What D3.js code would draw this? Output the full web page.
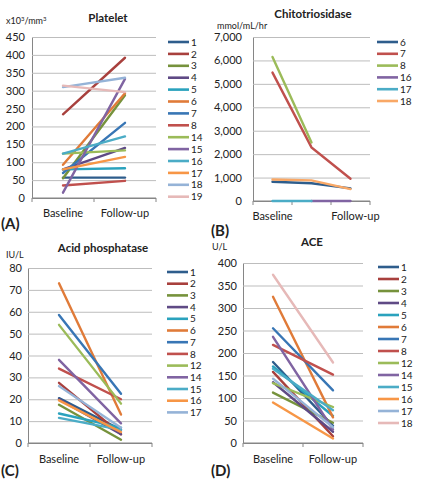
<!DOCTYPE html>
<html><head><meta charset="utf-8">
<script src="https://cdn.jsdelivr.net/npm/d3@7"></script>
<style>body{margin:0;background:#fff}svg{display:block}text{font-family:Lato,"Liberation Sans",sans-serif;fill:#222}</style>
</head><body>
<svg id="c" width="421" height="480"></svg>
<script>
// ---- Data ----
const platCats = ["Baseline", "Follow-up"];
const platIds = ["1","2","3","4","5","6","7","8","14","15","16","17","18","19"];
const platBase   = [57, 234, 55, 80, 80, 93, 70, 35, 124, 15, 124, 80, 310, 314];
const platFollow = [57, 392, 287, 140, 83, 293, 210, 48, 133, 333, 172, 115, 336, 296];
const platTicks = [0,50,100,150,200,250,300,350,400,450];

const chitoCats = ["Baseline", "", "Follow-up"];
const chitoIds = ["6","7","8","16","17","18"];
const chitoBase   = [820, 5480, 6150, null, 0, 920];
const chitoMid    = [760, 2290, 2500, 0, 0, 880];
const chitoFollow = [540, 950, null, 0, null, 510];
const chitoTicks = [0,1000,2000,3000,4000,5000,6000,7000];

const acpCats = ["Baseline", "Follow-up"];
const acpIds = ["1","2","3","4","5","6","7","8","12","14","15","16","17"];
const acpBase   = [20.5, 27.5, 17.5, 20, 13.5, 73, 58.5, 34, 54, 38, 11.5, 19.5, 26];
const acpFollow = [6, 4, 1.5, 4, 7, 13, 22.5, 20, 18, 9, 6, 5, 7];
const acpTicks = [0,10,20,30,40,50,60,70,80];

const aceCats = ["Baseline", "Follow-up"];
const aceIds = ["1","2","3","4","5","6","7","8","12","14","15","16","17","18"];
const aceBase   = [180, 158, 112, 135, 170, 325, 255, 218, 133, 236, 165, 90, 143, 374];
const aceFollow = [38, 15, 45, 25, 60, 57, 117, 152, 80, 30, 73, 10, 35, 179];
const aceTicks = [0,50,100,150,200,250,300,350,400];

// ---- Styles ----
const pal14 = ["#2e5d8c","#a8403d","#76923c","#5f4a85","#2aa2bd","#e07b39","#3876b5","#c0504d","#9bbb59","#8064a2","#4bacc6","#f79646","#95b3d7","#e6b9b8"];
const pal6 = ["#2e5d8c","#c0504d","#9bbb59","#8064a2","#4bacc6","#f9a866"];

const svg = d3.select("#c");

function panel(o) {
  const x = d3.scaleBand().domain(o.cats.map((c,i)=>i)).range([o.x0, o.x1]).padding(0);
  const y = d3.scaleLinear().domain([0, o.max]).range([o.y0, o.y1]);
  const g = svg.append("g");
  // gridlines
  g.append("g").attr("transform", `translate(${o.x0},0)`)
    .call(d3.axisLeft(y).tickValues(o.ticks).tickSize(-(o.x1 - o.x0)).tickFormat(o.fmt || d3.format("d")))
    .call(s => {
      s.select(".domain").attr("stroke", "#868686");
      s.selectAll(".tick line").attr("stroke", d => d === 0 ? "none" : "#bdbdbd");
      s.selectAll(".tick text").attr("x", -(o.labGap)).attr("font-size", 11).attr("fill", "#222")
        .style("font-family", "Lato, sans-serif");
    });
  // x axis
  const xa = g.append("g").attr("transform", `translate(0,${o.y0})`);
  xa.append("line").attr("x1", o.x0).attr("x2", o.x1).attr("stroke", "#868686");
  const edges = d3.range(o.cats.length + 1).map(i => o.x0 + i * x.bandwidth());
  xa.selectAll("line.t").data(edges).join("line").attr("class","t")
    .attr("x1", d=>d).attr("x2", d=>d).attr("y1", 0).attr("y2", 4).attr("stroke", "#868686");
  xa.selectAll("text").data(o.cats).join("text")
    .attr("x", (d,i) => x(i) + x.bandwidth()/2 + (i === o.cats.length-1 ? (o.lastDx||0) : 0))
    .attr("y", o.xlabY - o.y0).attr("text-anchor","middle").attr("font-size", 11).text(d=>d);
  // lines
  const line = d3.line().defined(d => d.v != null).x(d => x(d.i) + x.bandwidth()/2).y(d => y(d.v));
  o.ids.forEach((id, k) => {
    const pts = o.series.map((arr, i) => ({i, v: arr[k]}));
    g.append("path").datum(pts).attr("d", line).attr("fill","none")
      .attr("stroke", o.pal[k]).attr("stroke-width", 2.4).attr("stroke-linecap","round");
  });
  // title, unit, tag
  g.append("text").attr("x", o.tx).attr("y", o.ty).attr("text-anchor","middle")
    .attr("font-weight","bold").attr("font-size", 11.5).text(o.title);
  g.append("text").attr("x", o.ux).attr("y", o.uy).attr("font-size", 9).html(o.unit);
  g.append("text").attr("x", o.tagx).attr("y", o.tagy).attr("font-weight","bold").attr("font-size", 15).text(o.tag);
  // legend
  const lg = g.append("g");
  o.ids.forEach((id, k) => {
    const yy = o.ly + k * o.lstep;
    lg.append("line").attr("x1", o.lx).attr("x2", o.lx + 21).attr("y1", yy).attr("y2", yy)
      .attr("stroke", o.pal[k]).attr("stroke-width", 2.6);
    lg.append("text").attr("x", o.lx + 23).attr("y", yy + 3.6).attr("font-size", 10).text(id);
  });
}

panel({cats: platCats, ids: platIds, series: [platBase, platFollow], ticks: platTicks, max: 450,
  x0: 32, x1: 156, y0: 198, y1: 37, labGap: 7, xlabY: 217, pal: pal14,
  title: "Platelet", tx: 108, ty: 22, unit: 'x10<tspan dy="-3" font-size="6">3</tspan><tspan dy="3">/mm</tspan><tspan dy="-3" font-size="6">3</tspan>',
  ux: 6, uy: 24, tag: "(A)", tagx: 1, tagy: 229, lx: 168, ly: 42, lstep: 11.9});

panel({cats: chitoCats, ids: chitoIds, series: [chitoBase, chitoMid, chitoFollow], ticks: chitoTicks, max: 7000,
  x0: 253, x1: 370, y0: 201, y1: 37, labGap: 11, xlabY: 220, pal: pal6, fmt: d3.format(","), lastDx: 5,
  title: "Chitotriosidase", tx: 313, ty: 18, unit: "mmol/mL/hr",
  ux: 217, uy: 29, tag: "(B)", tagx: 211, tagy: 236, lx: 377, ly: 42, lstep: 11.8});

panel({cats: acpCats, ids: acpIds, series: [acpBase, acpFollow], ticks: acpTicks, max: 80,
  x0: 28, x1: 152, y0: 443, y1: 268, labGap: 6, xlabY: 463, pal: pal14,
  title: "Acid phosphatase", tx: 103, ty: 252, unit: "IU/L",
  ux: 6, uy: 258, tag: "(C)", tagx: 1, tagy: 476, lx: 167, ly: 272, lstep: 11.7});

panel({cats: aceCats, ids: aceIds, series: [aceBase, aceFollow], ticks: aceTicks, max: 400,
  x0: 243, x1: 363, y0: 443, y1: 263, labGap: 6, xlabY: 463, pal: pal14,
  title: "ACE", tx: 312, ty: 246, unit: "U/L",
  ux: 212, uy: 250, tag: "(D)", tagx: 211, tagy: 476, lx: 378, ly: 267, lstep: 12});
</script>
</body></html>
